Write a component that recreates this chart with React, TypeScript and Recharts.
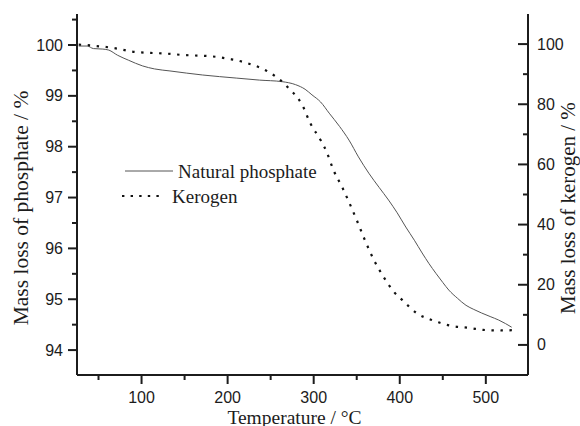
import React from 'react';
import { LineChart, Line, XAxis, YAxis, Legend, Label } from 'recharts';

// Thermogravimetric curves: temperature (°C) vs remaining mass
const phosphateTemp = [27, 37, 44, 55, 62, 72, 85, 101, 115, 133, 171, 210, 237, 263, 279, 290, 298, 308, 318, 330, 341, 352, 364, 376, 387, 397, 407, 417, 426, 434, 442, 450, 457, 467, 477, 486, 495, 505, 515, 523, 530];
const phosphateMass = [99.98, 99.98, 99.93, 99.92, 99.9, 99.8, 99.7, 99.59, 99.53, 99.49, 99.41, 99.35, 99.31, 99.28, 99.22, 99.13, 99.02, 98.88, 98.66, 98.4, 98.13, 97.8, 97.48, 97.2, 96.95, 96.7, 96.42, 96.16, 95.91, 95.7, 95.51, 95.33, 95.18, 95.02, 94.88, 94.8, 94.73, 94.66, 94.59, 94.52, 94.45];

const kerogenTemp = [27, 36, 46, 65, 75, 89, 116, 125, 147, 182, 191, 201, 211, 220, 230, 240, 250, 259, 273, 281, 287, 296, 308, 315, 323, 333, 341, 350, 360, 370, 381, 393, 403, 420, 437, 459, 482, 497, 517, 531];
const kerogenMass = [99.8, 99.7, 99.4, 98.8, 98.3, 97.5, 97.0, 96.9, 96.4, 95.9, 95.6, 95.1, 94.6, 93.9, 93.0, 91.9, 90.3, 88.6, 84.7, 82.3, 79.6, 73.7, 68.1, 64.2, 58.1, 52.5, 47.5, 41.5, 34.5, 28.2, 22.7, 17.7, 14.9, 10.5, 8.3, 6.4, 5.6, 5.0, 4.8, 4.9];

const xTicks = [50, 100, 150, 200, 250, 300, 350, 400, 450, 500];
const leftTicks = [94, 94.5, 95, 95.5, 96, 96.5, 97, 97.5, 98, 98.5, 99, 99.5, 100, 100.5];
const rightTicks = [0, 10, 20, 30, 40, 50, 60, 70, 80, 90, 100];

const phosphateData = phosphateTemp.map((t, i) => ({ t, v: phosphateMass[i] }));
const kerogenData = kerogenTemp.map((t, i) => ({ t, v: kerogenMass[i] }));

const SANS = '"Liberation Sans", Arial, sans-serif';
const SERIF = '"Liberation Serif", "Times New Roman", serif';
const INK = '#1c1c1c';

const BottomTick = (props: any) => {
  const { x, y, payload } = props;
  const axisY = y - 9;
  const major = payload.value % 100 === 0;
  return (
    <g>
      <line x1={x} x2={x} y1={axisY} y2={axisY + (major ? 9 : 5)} stroke={INK} strokeWidth={2} />
      {major && (
        <text x={x} y={axisY + 27.5} textAnchor="middle" fontFamily={SANS} fontSize={16} fill={INK}>
          {payload.value}
        </text>
      )}
    </g>
  );
};

const LeftTick = (props: any) => {
  const { x, y, payload } = props;
  const axisX = x + 9;
  const major = Number.isInteger(payload.value);
  return (
    <g>
      <line x1={axisX} x2={axisX - (major ? 9 : 5)} y1={y} y2={y} stroke={INK} strokeWidth={2} />
      {major && (
        <text x={axisX - 14} y={y + 5.5} textAnchor="end" fontFamily={SANS} fontSize={16} fill={INK}>
          {payload.value}
        </text>
      )}
    </g>
  );
};

const RightTick = (props: any) => {
  const { x, y, payload } = props;
  const axisX = x - 10;
  const major = payload.value % 20 === 0;
  return (
    <g>
      <line x1={axisX} x2={axisX - (major ? 10 : 5)} y1={y} y2={y} stroke={INK} strokeWidth={2} />
      {major && (
        <text x={axisX + 9} y={y + 5.5} textAnchor="start" fontFamily={SANS} fontSize={16} fill={INK}>
          {payload.value}
        </text>
      )}
    </g>
  );
};

const LegendBox = () => (
  <svg width={240} height={56}>
    <line x1={10} x2={58} y1={16} y2={16} stroke="#555" strokeWidth={1} />
    <text x={63} y={16} dominantBaseline="central" fontFamily={SERIF} fontSize={19} fill={INK}>
      Natural phosphate
    </text>
    <line x1={7} x2={50} y1={41} y2={41} stroke="#111" strokeWidth={2.2} strokeDasharray="2.4 6.2" />
    <text x={57} y={41} dominantBaseline="central" fontFamily={SERIF} fontSize={19} fill={INK}>
      Kerogen
    </text>
  </svg>
);

const SideTitle = ({ viewBox, text, dx, size }: any) => {
  const cx = viewBox.x + dx;
  const cy = 208;
  return (
    <text
      x={cx}
      y={cy}
      transform={`rotate(-90, ${cx}, ${cy})`}
      textAnchor="middle"
      dominantBaseline="central"
      fontFamily={SERIF}
      fontSize={size}
      fill={INK}
    >
      {text}
    </text>
  );
};

export default function App() {
  return (
    <div style={{ position: 'absolute', left: 0, top: 0, width: 580, height: 426, background: '#fff' }}>
      <LineChart width={580} height={426} margin={{ top: 14, right: 0, bottom: 0, left: 0 }}>
        <XAxis
          xAxisId="b"
          type="number"
          dataKey="t"
          domain={[25, 549]}
          ticks={xTicks}
          allowDataOverflow
          height={51}
          tickSize={9}
          tickMargin={0}
          tickLine={false}
          axisLine={{ stroke: INK, strokeWidth: 2 }}
          tick={<BottomTick />}
          interval={0}
        >
          <Label
            content={({ viewBox }: any) => (
              <text
                x={viewBox.x + viewBox.width / 2 - 8}
                y={423.5}
                textAnchor="middle"
                fontFamily={SERIF}
                fontSize={19.5}
                fill={INK}
              >
                Temperature / °C
              </text>
            )}
          />
        </XAxis>
        <XAxis
          xAxisId="top"
          orientation="top"
          type="number"
          dataKey="t"
          domain={[25, 549]}
          height={0}
          tick={false}
          tickLine={false}
          axisLine={{ stroke: '#6a6a6a', strokeWidth: 1.5 }}
        />
        <YAxis
          yAxisId="p"
          orientation="left"
          type="number"
          domain={[93.51, 100.61]}
          allowDataOverflow
          ticks={leftTicks}
          interval={0}
          width={77}
          tickSize={9}
          tickMargin={0}
          tickLine={false}
          axisLine={{ stroke: INK, strokeWidth: 2 }}
          tick={<LeftTick />}
        >
          <Label content={(p: any) => <SideTitle {...p} text="Mass loss of phosphate / %" dx={21} size={21.5} />} />
        </YAxis>
        <YAxis
          yAxisId="k"
          orientation="right"
          type="number"
          domain={[-10, 110]}
          allowDataOverflow
          ticks={rightTicks}
          interval={0}
          width={52}
          tickSize={10}
          tickMargin={0}
          tickLine={false}
          axisLine={{ stroke: INK, strokeWidth: 2 }}
          tick={<RightTick />}
        >
          <Label content={(p: any) => <SideTitle {...p} text="Mass loss of kerogen / %" dx={40} size={21} />} />
        </YAxis>
        <Legend
          layout="horizontal"
          verticalAlign="middle"
          align="center"
          wrapperStyle={{ position: 'absolute', left: 115, top: 155, width: 240, height: 56 }}
          content={() => <LegendBox />}
        />
        <Line
          xAxisId="b"
          yAxisId="p"
          data={phosphateData}
          dataKey="v"
          type="monotone"
          stroke="#555"
          strokeWidth={1}
          dot={false}
          isAnimationActive={false}
          name="Natural phosphate"
        />
        <Line
          xAxisId="b"
          yAxisId="k"
          data={kerogenData}
          dataKey="v"
          type="monotone"
          stroke="#111"
          strokeWidth={2.2}
          strokeDasharray="2.4 6.6"
          dot={false}
          isAnimationActive={false}
          name="Kerogen"
        />
      </LineChart>
    </div>
  );
}
